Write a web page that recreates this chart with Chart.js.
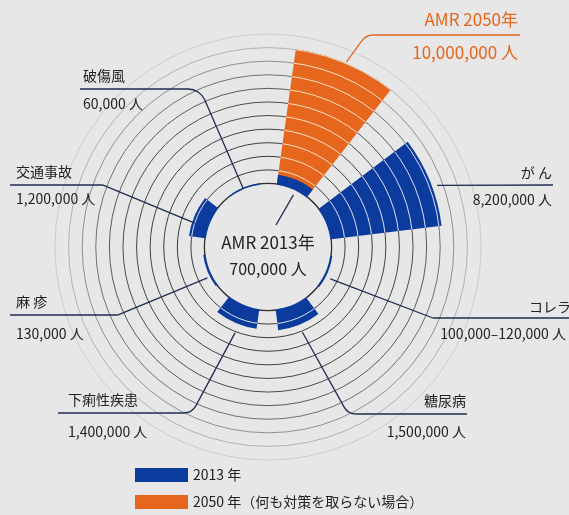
<!DOCTYPE html>
<html lang="ja">
<head>
<meta charset="utf-8">
<script src="https://cdn.jsdelivr.net/npm/chart.js@4.4.1/dist/chart.umd.min.js"></script>
<style>
  html, body { margin: 0; padding: 0; background: #e7e7e7; }
  #wrap {
    position: relative; width: 569px; height: 515px; overflow: hidden;
    background: #e7e7e7; color: #222;
    font-family: "Noto Sans CJK JP", "Noto Sans", sans-serif;
  }
  #chart { position: absolute; left: 0; top: 0; }
  .lbl { position: absolute; font-size: 14px; line-height: 16px; white-space: nowrap; }
  .legend { position: absolute; left: 135px; font-size: 14px; line-height: 16px; white-space: nowrap; }
  .legend span { display: inline-block; width: 53px; height: 14px; vertical-align: -2px; margin-right: 5px; }
</style>
</head>
<body>
<div id="wrap">
  <canvas id="chart" width="569" height="515"></canvas>
</div>
<script>
// deaths per year, in millions of people
const categories = ['AMR', 'がん', 'コレラ', '糖尿病', '下痢性疾患', '麻疹', '交通事故', '破傷風'];
const deaths2013 = [0.7, 8.2, 0.11, 1.5, 1.4, 0.13, 1.2, 0.06];
const deaths2050 = [10, null, null, null, null, null, null, null];
const valueLabels = ['700,000 人', '8,200,000 人', '100,000–120,000 人', '1,500,000 人',
                     '1,400,000 人', '130,000 人', '1,200,000 人', '60,000 人'];
const ringTicks = [0, 1, 2, 3, 4, 5, 6, 7, 8, 9, 10, 11];
const seriesNames = ['2013 年', '2050 年（何も対策を取らない場合）'];

const BLUE = '#0b3b9d';
const ORANGE = '#e5661c';
const BG = '#e7e7e7';
const NAVY = '#1f2d4f';
const SCALE_MIN = -4.67;   // leaves the empty hole in the middle
const ringColors = ['#2e2e2e', '#3a3a3a', '#3a3a3a', '#3d3d3d', '#404040', '#454545', '#4c4c4c',
                    '#5a5a5a', '#707070', '#8f8f8f', '#b0b0b0', '#cccccc'];

// each category: a 30 degree bar followed by a 15 degree gap
const sliceLabels = categories.flatMap(c => [c, '']);
const data2013 = deaths2013.flatMap(v => [v, SCALE_MIN]);
const data2050 = deaths2050.flatMap(v => [v === null ? SCALE_MIN : v, SCALE_MIN]);
const sliceAngle = ctx => (ctx.dataIndex % 2 === 0 ? 30 : 15);

// label layout: title text, value text, position
const labelLayout = [
  { i: 0, title: 'AMR 2050年', value: '10,000,000 人', x: 518, y: 18, vy: 51, right: true, size: 17, color: ORANGE },
  { i: 1, title: 'が ん', x: 552, y: 172, vy: 199, right: true },
  { i: 2, title: 'コレラ', x: 571, y: 306, vy: 333, right: true, vx: 566 },
  { i: 3, title: '糖尿病', x: 466, y: 400, vy: 431, right: true },
  { i: 4, title: '下痢性疾患', x: 68, y: 399, vy: 431 },
  { i: 5, title: '麻 疹', x: 16, y: 301, vy: 333 },
  { i: 6, title: '交通事故', x: 16, y: 171, vy: 198 },
  { i: 7, title: '破傷風', x: 83, y: 75, vy: 103 }
];

// leader lines: anchor in polar coords around the chart centre, then bends
const leaders = [
  { a: 23, r: 201, pts: [[366, 35], [520, 35]], round: 14, color: ORANGE },
  { a: 70, r: 180, pts: [[553, 185]], round: 0 },
  { a: 117, r: 70, pts: [[433, 318], [569, 318]], round: 4 },
  { a: 158, r: 92, pts: [[348, 414], [467, 414]], round: 14 },
  { a: 201, r: 92, pts: [[192, 413], [58, 413]], round: 14 },
  { a: 243, r: 68, pts: [[118, 315], [10, 315]], round: 4 },
  { a: 288, r: 77, pts: [[103, 185], [10, 185]], round: 4 },
  { a: 337, r: 64, pts: [[200, 89], [80, 89]], round: 18 },
  { a: 26, r: 58, pts: [[276, 225]], round: 0 }
];

const wrap = document.getElementById('wrap');
function addText(text, x, y, right, size, color) {
  const d = document.createElement('div');
  d.className = 'lbl';
  d.textContent = text;
  if (size) d.style.fontSize = size + 'px';
  if (color) d.style.color = color;
  const h = size ? size + 2 : 16;
  d.style.lineHeight = h + 'px';
  d.style.top = (y - h / 2) + 'px';
  if (right) d.style.right = (569 - x) + 'px';
  else d.style.left = x + 'px';
  wrap.appendChild(d);
  return d;
}

labelLayout.forEach(l => {
  addText(l.title, l.x, l.y, l.right, l.size, l.color);
  addText(l.value || valueLabels[l.i], l.vx || l.x, l.vy, l.right, l.size, l.color);
});
// centre text
const c1 = addText('AMR 2013年', 0, 241, false, 17);
const c2 = addText(valueLabels[0], 0, 268, false, 16);
[c1, c2].forEach(d => { d.style.left = '168px'; d.style.width = '200px'; d.style.textAlign = 'center'; });

// legend
[[BLUE, seriesNames[0], 474], [ORANGE, seriesNames[1], 501]].forEach(([col, txt, y]) => {
  const d = document.createElement('div');
  d.className = 'legend';
  d.style.top = (y - 8) + 'px';
  d.innerHTML = '<span style="background:' + col + '"></span>';
  d.appendChild(document.createTextNode(txt));
  wrap.appendChild(d);
});

// white ring lines across the bars, then the leader lines
const overlay = {
  id: 'overlay',
  afterDatasetsDraw(chart) {
    const ctx = chart.ctx;
    const s = chart.scales.r;
    [1, 2].forEach(di => {
      chart.getDatasetMeta(di).data.forEach(el => {
        const p = el.getProps(['x', 'y', 'startAngle', 'endAngle', 'outerRadius']);
        if (!(p.outerRadius > s.getDistanceFromCenterForValue(0))) return;
        ctx.save();
        ctx.beginPath();
        ctx.moveTo(p.x, p.y);
        ctx.arc(p.x, p.y, p.outerRadius, p.startAngle, p.endAngle);
        ctx.closePath();
        ctx.clip();
        ctx.strokeStyle = di === 1 ? 'rgba(255,255,255,0.85)' : 'rgba(255,236,215,0.9)';
        ctx.lineWidth = 1;
        ringTicks.slice(1).forEach(v => {
          ctx.beginPath();
          ctx.arc(p.x, p.y, s.getDistanceFromCenterForValue(v), 0, Math.PI * 2);
          ctx.stroke();
        });
        ctx.restore();
      });
    });

    ctx.save();
    ctx.lineWidth = 1.3;
    leaders.forEach(l => {
      const rad = l.a * Math.PI / 180;
      const x0 = s.xCenter + l.r * Math.sin(rad);
      const y0 = s.yCenter - l.r * Math.cos(rad);
      ctx.strokeStyle = l.color || NAVY;
      ctx.beginPath();
      ctx.moveTo(x0, y0);
      for (let k = 0; k < l.pts.length; k++) {
        const [px, py] = l.pts[k];
        const next = l.pts[k + 1];
        if (next && l.round) ctx.arcTo(px, py, next[0], next[1], l.round);
        else ctx.lineTo(px, py);
      }
      ctx.stroke();
    });
    ctx.restore();
  }
};

new Chart(document.getElementById('chart'), {
  type: 'polarArea',
  data: {
    labels: sliceLabels,
    datasets: [
      { label: 'hole', data: [-0.05], angle: 360, backgroundColor: BG, borderWidth: 0, order: 0 },
      { label: seriesNames[0], data: data2013, angle: sliceAngle, backgroundColor: BLUE, borderWidth: 0, order: 1 },
      { label: seriesNames[1], data: data2050, angle: sliceAngle, backgroundColor: ORANGE, borderWidth: 0, order: 2 }
    ]
  },
  options: {
    responsive: false,
    animation: false,
    events: [],
    layout: { padding: { left: 55, right: 88, top: 34, bottom: 55 } },
    plugins: { legend: { display: false }, tooltip: { enabled: false } },
    scales: {
      r: {
        min: SCALE_MIN,
        max: 11,
        startAngle: 8,
        ticks: { display: false },
        afterBuildTicks: sc => { sc.ticks = ringTicks.map(v => ({ value: v })); },
        grid: {
          circular: true,
          color: c => ringColors[c.index] || '#cccccc',
          lineWidth: c => (c.index === 0 ? 1.6 : 1)
        },
        angleLines: { display: false },
        pointLabels: { display: false }
      }
    }
  },
  plugins: [overlay]
});
</script>
</body>
</html>
